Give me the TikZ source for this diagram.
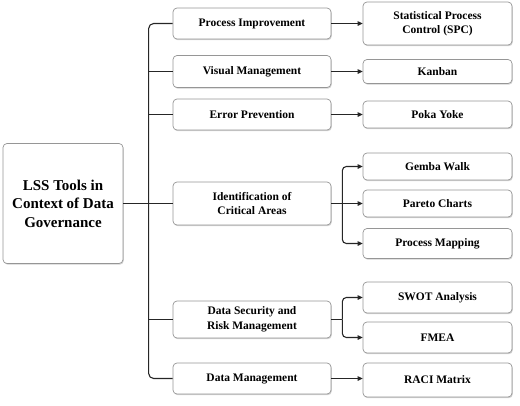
\documentclass[tikz,border=0pt]{standalone}
\usepackage{fontspec}
\setmainfont{Liberation Serif}
\definecolor{boxgray}{RGB}{150,150,150}
\usetikzlibrary{arrows.meta, positioning, calc, shadows}

\begin{document}
\begin{tikzpicture}[x=1pt, y=-1pt,
  tbox/.style={draw=boxgray, fill=white, rounded corners=4pt, align=center, inner sep=2pt, line width=0.7pt, font=\bfseries\fontsize{11.5}{14.5}\selectfont, drop shadow={shadow xshift=0.8pt, shadow yshift=-1.2pt, opacity=0.35}},
  mbox/.style={tbox, minimum width=158pt},
  rbox/.style={tbox, minimum width=149pt},
  link/.style={draw=black!85, line width=1.1pt},
  arr/.style={link, -{Triangle[length=5pt, width=4.5pt]}}
]
  \useasboundingbox (0,0) rectangle (520,405);
  \node[tbox, minimum width=120pt, minimum height=120pt, font=\bfseries\fontsize{15}{18.5}\selectfont] (lss) at (63,203.5) {LSS Tools in\\Context of Data\\Governance};

  \node[mbox, minimum height=31pt] (pi) at (252,23.5) {Process Improvement};
  \node[mbox, minimum height=32pt] (vm) at (252,71.5) {Visual Management};
  \node[mbox, minimum height=31pt] (ep) at (252,114.5) {Error Prevention};
  \node[mbox, minimum height=43pt] (ica) at (252,203.5) {Identification of\\Critical Areas};
  \node[mbox, minimum height=37pt] (dsr) at (252,319.5) {Data Security and\\Risk Management};
  \node[mbox, minimum height=31pt] (dm) at (252,378.5) {Data Management};

  \node[rbox, minimum height=43pt] (spc) at (437.5,23.5) {Statistical Process\\Control (SPC)};
  \node[rbox, minimum height=24pt] (kb) at (437.5,71.5) {Kanban};
  \node[rbox, minimum height=27pt] (pk) at (437.5,114.5) {Poka Yoke};
  \node[rbox, minimum height=27pt] (gw) at (437.5,166.5) {Gemba Walk};
  \node[rbox, minimum height=27pt] (pc) at (437.5,203.5) {Pareto Charts};
  \node[rbox, minimum height=30pt] (pm) at (437.5,243.5) {Process Mapping};
  \node[rbox, minimum height=31pt] (swot) at (437.5,297.5) {SWOT Analysis};
  \node[rbox, minimum height=31pt] (fmea) at (437.5,337.5) {FMEA};
  \node[rbox, minimum height=34pt] (raci) at (437.5,380) {RACI Matrix};

  \coordinate (icaj) at ($(ica.east)+(11,0)$);
  \coordinate (dsrj) at ($(dsr.east)+(11,0)$);

  \draw[link, rounded corners=5pt] (pi.west) -- ++(-24,0) |- (dm.west);
  \draw[link] (vm.west) -- ++(-24,0);
  \draw[link] (ep.west) -- ++(-24,0);
  \draw[link] (dsr.west) -- ++(-24,0);
  \draw[link] (lss.east) -- (ica.west);

  \draw[arr] (pi.east) -- (spc.west);
  \draw[arr] (vm.east) -- (kb.west);
  \draw[arr] (ep.east) -- (pk.west);
  \draw[arr] (ica.east) -- (pc.west);
  \draw[arr, rounded corners=4pt] (icaj) |- (gw.west);
  \draw[arr, rounded corners=4pt] (icaj) |- (pm.west);
  \draw[link] (dsr.east) -- (dsrj);
  \draw[arr, rounded corners=4pt] (dsrj) |- (swot.west);
  \draw[arr, rounded corners=4pt] (dsrj) |- (fmea.west);
  \draw[arr] (dm.east) -- (dm.east -| raci.west);
\end{tikzpicture}
\end{document}
